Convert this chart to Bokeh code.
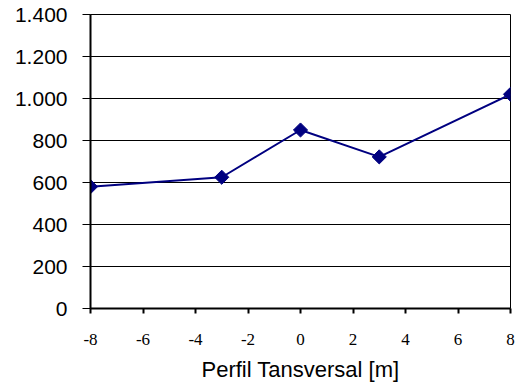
from bokeh.plotting import figure
from bokeh.models import FixedTicker, Range1d
from bokeh.embed import file_html
from bokeh.resources import INLINE

x_vals = [-8, -3, 0, 3, 8]
y_vals = [580, 625, 850, 722, 1020]
x_ticks = [-8, -6, -4, -2, 0, 2, 4, 6, 8]
x_tick_labels = ["-8", "-6", "-4", "-2", "0", "2", "4", "6", "8"]
y_ticks = [0, 200, 400, 600, 800, 1000, 1200, 1400]
y_tick_labels = ["0", "200", "400", "600", "800", "1.000", "1.200", "1.400"]
x_title = "Perfil Tansversal [m]"

p = figure(width=519, height=386, output_backend="svg", toolbar_location=None,
           x_range=Range1d(-8, 8), y_range=Range1d(0, 1400),
           min_border_left=90, min_border_right=9, min_border_top=14, min_border_bottom=78)
p.background_fill_color = "white"
p.border_fill_color = "white"
p.outline_line_color = "black"
p.outline_line_width = 1

p.line(x_vals, y_vals, line_color="#000080", line_width=2)
p.scatter(x_vals, y_vals, marker="square", angle=0.785398, size=10,
          fill_color="#000080", line_color="#000080")

p.xgrid.visible = False
p.ygrid.ticker = FixedTicker(ticks=y_ticks)
p.ygrid.grid_line_color = "black"
p.ygrid.grid_line_width = 1

xa = p.xaxis[0]
xa.ticker = FixedTicker(ticks=x_ticks)
xa.major_label_overrides = {t: l for t, l in zip(x_ticks, x_tick_labels)}
xa.axis_line_color = "black"
xa.axis_line_width = 2
xa.major_tick_line_width = 2
xa.major_tick_out = 5
xa.major_tick_in = 0
xa.minor_tick_line_color = None
xa.major_label_text_font = "Liberation Serif"
xa.major_label_text_font_size = "17px"
xa.major_label_text_color = "black"
xa.major_label_standoff = 20
xa.axis_label = x_title
xa.axis_label_text_font = "Liberation Sans"
xa.axis_label_text_font_style = "normal"
xa.axis_label_text_font_size = "22px"
xa.axis_label_text_color = "black"
xa.axis_label_standoff = 9

ya = p.yaxis[0]
ya.ticker = FixedTicker(ticks=y_ticks)
ya.major_label_overrides = {t: l for t, l in zip(y_ticks, y_tick_labels)}
ya.axis_line_color = "black"
ya.axis_line_width = 2
ya.major_tick_line_width = 1
ya.major_tick_out = 8
ya.major_tick_in = 0
ya.minor_tick_line_color = None
ya.major_label_text_font = "Liberation Sans"
ya.major_label_text_font_size = "21px"
ya.major_label_text_color = "black"
ya.major_label_standoff = 15

open("out.html", "w").write(file_html(p, INLINE))
